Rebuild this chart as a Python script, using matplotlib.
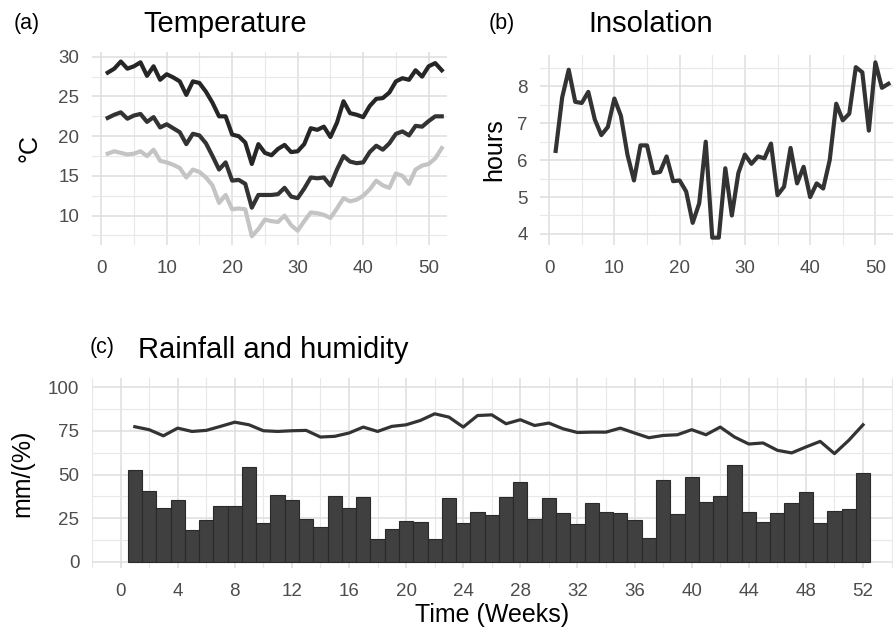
import numpy as np
import matplotlib.pyplot as plt
from matplotlib.ticker import MultipleLocator

plt.rcParams['font.family'] = ['Liberation Sans', 'DejaVu Sans']

weeks = np.arange(1, 53)

# weekly temperatures (deg C)
t_max = [28.0, 28.5, 29.4, 28.5, 28.8, 29.3, 27.6, 28.8, 27.1, 27.8,
         27.4, 26.9, 25.2, 26.9, 26.7, 25.6, 24.2, 22.5, 22.5, 20.2,
         20.0, 19.2, 16.5, 19.0, 17.9, 17.6, 18.4, 18.9, 18.0, 18.1,
         19.0, 21.0, 20.8, 21.2, 19.9, 21.7, 24.4, 22.9, 22.7, 22.4,
         23.8, 24.7, 24.8, 25.5, 26.9, 27.3, 27.1, 28.3, 27.5, 28.8,
         29.2, 28.3]
t_mean = [22.3, 22.7, 23.0, 22.2, 22.6, 22.8, 21.8, 22.4, 21.1, 21.5,
          21.0, 20.5, 19.0, 20.3, 20.1, 19.1, 17.5, 15.8, 16.7, 14.4,
          14.5, 14.0, 11.0, 12.6, 12.6, 12.6, 12.7, 13.5, 12.4, 12.2,
          13.4, 14.8, 14.7, 14.8, 13.8, 15.8, 17.5, 16.8, 16.6, 16.7,
          18.0, 18.8, 18.3, 19.1, 20.3, 20.6, 20.1, 21.3, 21.2, 21.9,
          22.5, 22.5]
t_min = [17.8, 18.1, 17.9, 17.7, 17.8, 18.1, 17.5, 18.3, 16.9, 16.7,
         16.4, 16.0, 14.8, 15.8, 15.5, 14.8, 13.8, 11.6, 12.6, 10.8,
         10.9, 10.8, 7.4, 8.3, 9.5, 9.3, 9.2, 10.0, 8.8, 8.1,
         9.3, 10.4, 10.3, 10.1, 9.7, 10.9, 12.2, 11.8, 12.0, 12.5,
         13.3, 14.4, 13.8, 13.5, 15.3, 15.0, 14.0, 15.8, 16.3, 16.5,
         17.2, 18.5]

# insolation (hours)
insolation = [6.25, 7.7, 8.45, 7.58, 7.55, 7.85, 7.1, 6.68, 6.9, 7.67,
              7.2, 6.15, 5.45, 6.4, 6.4, 5.65, 5.68, 6.1, 5.43, 5.45,
              5.15, 4.3, 4.83, 6.5, 3.9, 3.9, 5.78, 4.5, 5.65, 6.15,
              5.9, 6.1, 6.05, 6.45, 5.05, 5.28, 6.33, 5.37, 5.82, 5.0,
              5.37, 5.23, 6.0, 7.53, 7.08, 7.26, 8.52, 8.38, 6.8, 8.65,
              7.96, 8.07]

# rainfall (mm) and humidity (%)
rainfall = [52.9, 40.5, 31.0, 35.7, 18.0, 24.0, 32.0, 32.0, 54.2, 22.4,
            38.2, 35.7, 24.3, 20.0, 37.6, 31.0, 37.0, 13.3, 19.0, 23.4,
            22.8, 12.9, 36.7, 22.0, 28.5, 26.6, 37.3, 45.8, 24.7, 36.3,
            28.1, 21.9, 34.0, 28.5, 27.8, 23.8, 13.5, 47.1, 27.6, 48.7,
            34.4, 37.6, 55.7, 28.5, 23.0, 28.1, 34.0, 40.3, 22.0, 29.1,
            30.0, 51.0]
humidity = [77.4, 75.7, 72.2, 76.6, 74.7, 75.3, 77.6, 80.0, 78.5, 75.1,
            74.7, 75.1, 75.3, 71.5, 71.9, 73.8, 77.2, 74.7, 77.6, 78.5,
            81.0, 84.8, 82.9, 77.2, 83.8, 84.2, 79.1, 81.4, 78.1, 79.5,
            76.2, 74.1, 74.3, 74.3, 76.6, 73.8, 71.1, 72.4, 72.8, 75.7,
            72.8, 77.2, 71.5, 67.5, 68.1, 63.9, 62.4, 65.8, 69.0, 62.0,
            69.6, 78.5]

W, H = 895, 633
fig = plt.figure(figsize=(W / 100, H / 100), dpi=100)


def rect(l, t, r, b):
    return [l / W, 1 - b / H, (r - l) / W, (b - t) / H]


def style(ax, xmaj, xmin, ymaj, ymin, xpad=11, ypad=9):
    ax.xaxis.set_major_locator(MultipleLocator(xmaj))
    ax.xaxis.set_minor_locator(MultipleLocator(xmin))
    ax.yaxis.set_major_locator(MultipleLocator(ymaj))
    ax.yaxis.set_minor_locator(MultipleLocator(ymin))
    ax.grid(which='major', color='#dedede', lw=1.1)
    ax.grid(which='minor', color='#e8e8e8', lw=0.8)
    ax.set_axisbelow(True)
    for s in ax.spines.values():
        s.set_visible(False)
    ax.tick_params(which='both', length=0, labelsize=13.5, labelcolor='#4d4d4d')
    ax.tick_params(axis='x', pad=xpad)
    ax.tick_params(axis='y', pad=ypad)


# (a) temperature
ax1 = fig.add_axes(rect(92, 52, 447, 245))
ax1.plot(weeks, t_max, color='#262626', lw=3)
ax1.plot(weeks, t_mean, color='#333333', lw=3)
ax1.plot(weeks, t_min, color='#c4c4c4', lw=3)
ax1.set_xlim(-1.4, 52.8)
ax1.set_ylim(6.3, 30.6)
style(ax1, 10, 5, 5, 2.5)
ax1.set_ylabel('°C', fontsize=18, labelpad=12)

# (b) insolation
ax2 = fig.add_axes(rect(540, 55, 893, 245))
ax2.plot(weeks, insolation, color='#333333', lw=3)
ax2.set_xlim(-1.4, 52.7)
ax2.set_ylim(3.7, 8.85)
style(ax2, 10, 5, 1, 0.5)
ax2.set_ylabel('hours', fontsize=18, labelpad=8)

# (c) rainfall and humidity
ax3 = fig.add_axes(rect(92, 378, 893, 568))
ax3.bar(weeks, rainfall, width=1, color='#404040', edgecolor='#2a2a2a', lw=0.8)
ax3.plot(weeks, humidity, color='#333333', lw=2.3)
ax3.set_xlim(-2.0, 54.1)
ax3.set_ylim(-3.5, 105.3)
style(ax3, 4, 2, 25, 12.5)
ax3.set_ylabel('mm/(%)', fontsize=18, labelpad=10)
ax3.set_xlabel('Time (Weeks)', fontsize=18, labelpad=2)

# panel tags and titles
fig.text(27 / W, 1 - 23 / H, '(a)', fontsize=15.5, ha='center', va='center')
fig.text(143 / W, 1 - 24 / H, 'Temperature', fontsize=21, ha='left', va='center')
fig.text(502 / W, 1 - 23 / H, '(b)', fontsize=15.5, ha='center', va='center')
fig.text(588 / W, 1 - 24 / H, 'Insolation', fontsize=21, ha='left', va='center')
fig.text(102 / W, 1 - 347 / H, '(c)', fontsize=15.5, ha='center', va='center')
fig.text(138 / W, 1 - 350 / H, 'Rainfall and humidity', fontsize=21, ha='left', va='center')

fig.savefig('out.png', dpi=100)
